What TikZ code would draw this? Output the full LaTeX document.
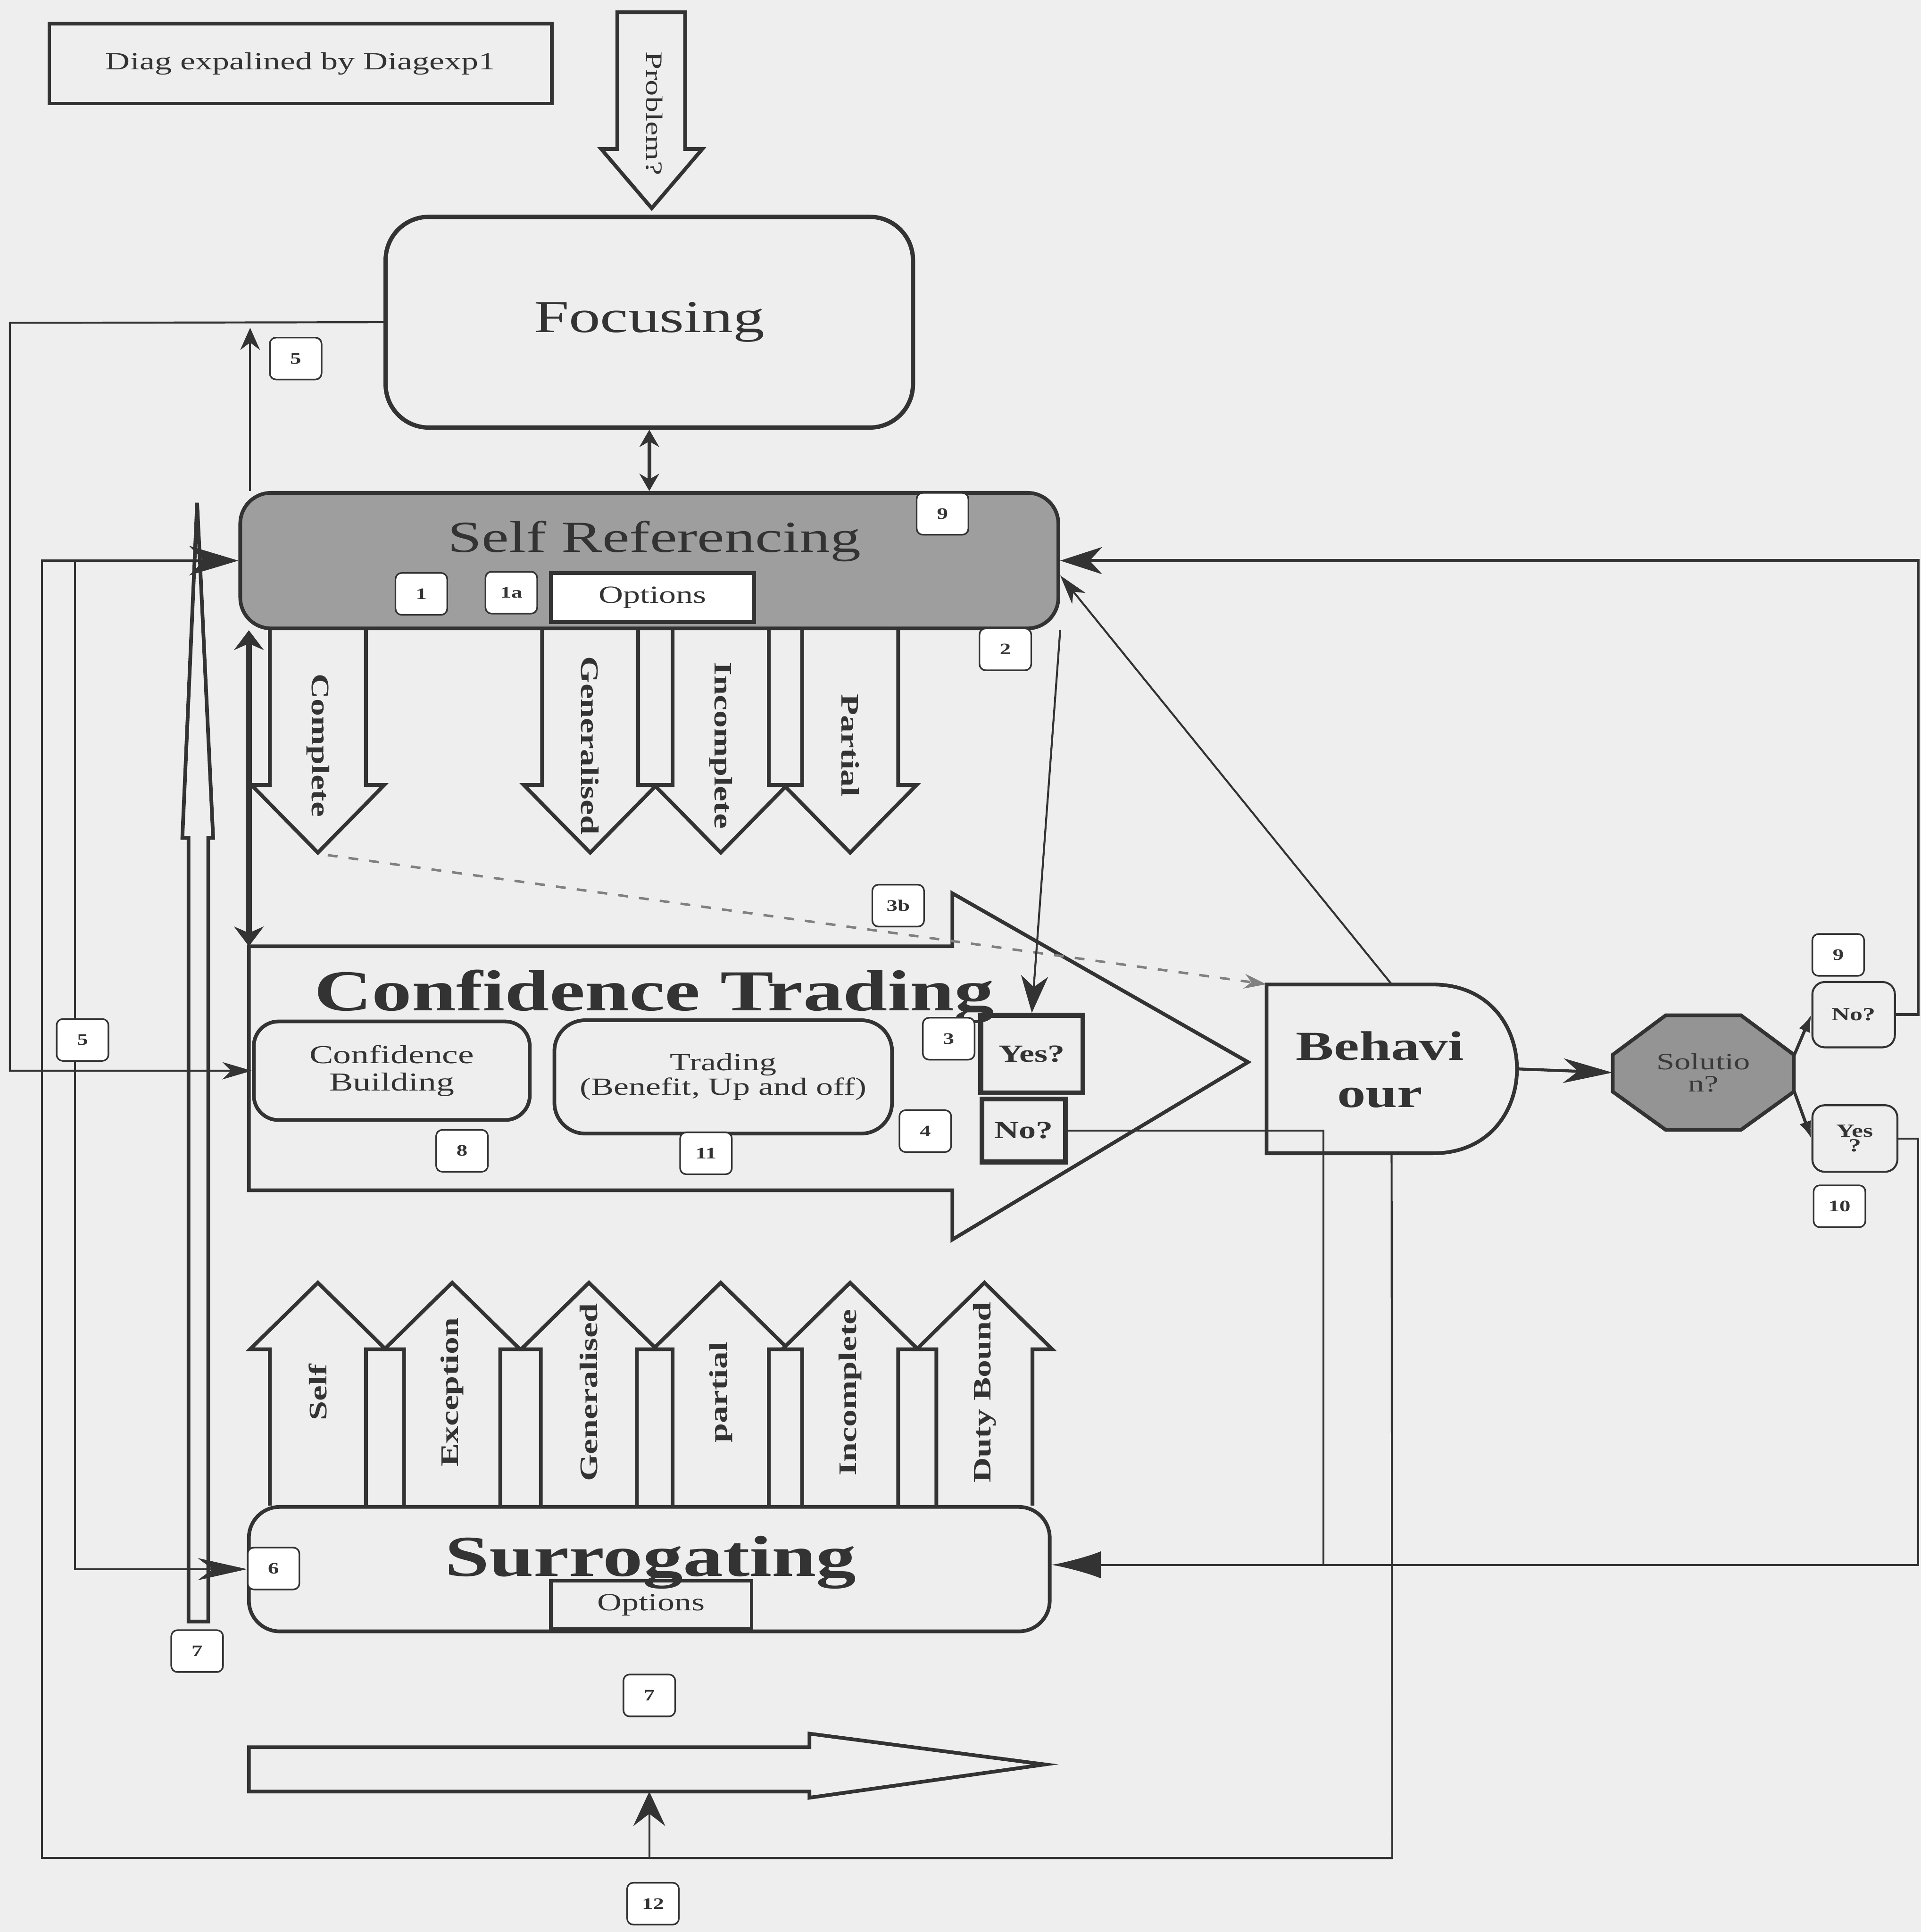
\documentclass[tikz,border=0pt]{standalone}
\usepackage{fontspec}
\setmainfont[FakeStretch=1.38]{Liberation Serif}
\usetikzlibrary{arrows.meta,positioning}
\definecolor{paper}{gray}{0.935}
\definecolor{ink}{gray}{0.2}
\definecolor{srgray}{gray}{0.62}
\newcommand{\fsz}[1]{\fontsize{#1}{1.2\dimexpr#1pt\relax}\selectfont}
% hollow block arrows hanging from Self Referencing / rising from Surrogating
\newcommand{\downblk}[3]{%
  \draw[blk] (#1-39,510) -- (#1-39,637) -- (#1-54,637) -- (#1,692) -- (#1+54,637) -- (#1+39,637) -- (#1+39,510);
  \node[armlbl,rotate=-90] (#2) at (#1,605) {#3};}
\newcommand{\upblk}[3]{%
  \draw[blk] (#1-39,1222) -- (#1-39,1095) -- (#1-55,1095) -- (#1,1041) -- (#1+55,1095) -- (#1+39,1095) -- (#1+39,1222);
  \node[armlbl,rotate=90] (#2) at (#1,1130) {#3};}

\begin{document}
\begin{tikzpicture}[x=1pt,y=-1pt,
  rbox/.style={draw=ink,line width=3pt,rounded corners=25pt},
  blk/.style={draw=ink,line width=3pt,fill=paper},
  armlbl/.style={font=\bfseries\fsz{20.5},text=ink},
  badge/.style={draw=ink,line width=1.3pt,rounded corners=5pt,fill=white,
    minimum width=42pt,minimum height=34pt,inner sep=0pt,font=\bfseries\fsz{13},text=ink},
  conn/.style={draw=ink,line width=1.6pt},
  >={Stealth[length=24pt,width=14pt,inset=7pt]}]
\fill[paper] (0,0) rectangle (1559,1568);
\useasboundingbox (0,0) rectangle (1559,1568);

% top
\node[draw=ink,line width=3pt,minimum width=408pt,minimum height=65pt,
  font=\fsz{20},text=ink] (title) at (244,51.5) {Diag expalined by Diagexp1};
\draw[blk] (501,10) -- (501,121) -- (488,121) -- (529,169) -- (570,121) -- (556,121) -- (556,10) -- cycle;
\node[font=\fsz{19},text=ink,rotate=-90] (prob) at (531,92) {Problem?};
\node[rbox,rounded corners=35pt,line width=3.5pt,minimum width=428pt,minimum height=171pt,
  font=\fsz{37},text=ink] (focus) at (527,261.5) {Focusing};

% self referencing
\downblk{258}{cmp}{Complete}
\downblk{479}{gen}{Generalised}
\downblk{585}{inc}{Incomplete}
\downblk{690}{par}{Partial}
\node[rbox,fill=srgray,minimum width=664pt,minimum height=110pt] (sr) at (527,455) {};
\node[font=\fsz{36},text=ink,anchor=base] (srtxt) at (531,448) {Self Referencing};
\node[draw=ink,line width=3pt,fill=white,minimum width=165pt,minimum height=40pt,
  font=\fsz{20},text=ink] (srop) at (529.5,485) {Options};

% confidence trading
\draw[draw=ink,line width=3pt] (202,768) -- (773,768) -- (773,725) -- (1013,862) -- (773,1006)
  -- (773,966) -- (202,966) -- cycle;
\node[font=\bfseries\fsz{47},text=ink,anchor=base] (cttxt) at (531,820) {Confidence Trading};
\node[rbox,rounded corners=20pt,minimum width=224pt,minimum height=80pt,align=center,
  font=\fsz{21},text=ink] (cb) at (318,869) {Confidence\\[-3pt]Building};
\node[rbox,minimum width=274pt,minimum height=92pt,align=center,
  font=\fsz{20},text=ink] (trd) at (587,874) {Trading\\[-4pt](Benefit, Up and off)};
\node[draw=ink,line width=4pt,minimum width=83pt,minimum height=63pt,
  font=\bfseries\fsz{20},text=ink] (yes) at (837.5,855.5) {Yes?};
\node[draw=ink,line width=4pt,minimum width=68pt,minimum height=51pt,
  font=\bfseries\fsz{20},text=ink] (no) at (831,917.5) {No?};

% behaviour and solution
\draw[draw=ink,line width=3pt] (1028,799) -- (1163,799) .. controls (1254,799) and (1254,936) .. (1163,936)
  -- (1028,936) -- cycle;
\node[minimum width=203pt,minimum height=137pt,inner sep=0pt] (beh) at (1129.5,867.5) {};
\node[font=\bfseries\fsz{33.5},text=ink,align=center] (behtxt) at (1120,868) {Behavi\\[-2pt]our};
\draw[draw=ink,line width=3pt,fill=srgray!110] (1309,856) -- (1352,824) -- (1413,824) -- (1456,856)
  -- (1456,886) -- (1413,917) -- (1352,917) -- (1309,886) -- cycle;
\node[minimum width=147pt,minimum height=93pt,inner sep=0pt,align=center,
  font=\fsz{19},text=gray!45!black] (sol) at (1382.5,870.5) {Solutio\\[-5pt]n?};
\node[draw=ink,line width=1.6pt,rounded corners=10pt,minimum width=67pt,minimum height=53pt,
  font=\bfseries\fsz{15},text=ink] (no2) at (1504.5,823.5) {No?};
\node[draw=ink,line width=1.6pt,rounded corners=10pt,minimum width=69pt,minimum height=54pt,
  align=center,font=\bfseries\fsz{15},text=ink] (yes2) at (1505.5,924) {Yes\\[-6pt]?};

% surrogating
\upblk{258}{slf}{Self}
\upblk{367}{exc}{Exception}
\upblk{478}{gen2}{Generalised}
\upblk{585}{prt}{partial}
\upblk{690}{inc2}{Incomplete}
\upblk{799}{duty}{Duty Bound}
\node[rbox,fill=paper,minimum width=650pt,minimum height=101pt] (surr) at (527,1273.5) {};
\node[draw=ink,line width=3pt,minimum width=163pt,minimum height=39pt,
  font=\fsz{20},text=ink] (surop) at (528.5,1302.5) {Options};
\node[font=\bfseries\fsz{47},text=ink,anchor=base] (surtxt) at (528,1279) {Surrogating};
\draw[draw=ink,line width=3pt] (202,1418) -- (657,1418) -- (657,1407) -- (848,1432) -- (657,1459)
  -- (657,1454) -- (202,1454) -- cycle;
\draw[draw=ink,line width=3pt] (153,1316) -- (153,680) -- (148,680) -- (160,408) -- (173,680)
  -- (169,680) -- (169,1316) -- cycle;

% connectors
\coordinate (lft) at (8,262);
\coordinate (up5) at (203,266);
\coordinate (bl) at (34,1508);
\coordinate (bm) at (527,1508);
\coordinate (br) at (1130,1508);
\coordinate (ba) at (527,1454);
\coordinate (j5) at (61,455);
\coordinate (ctnw) at (202,768);
\coordinate (cmptip) at (266,694);
\coordinate (nj) at (1074,1270);
\coordinate (rr) at (1557,1270);
\coordinate (rt) at (1557,455);
\draw[conn,->] (focus.west) -- (lft) |- (cb.west);
\draw[conn,-{Stealth[length=18pt,width=16pt,inset=6pt]}] (sr.north -| up5) -- (up5);
\draw[conn] (beh.south) -- (br) -- (bm);
\draw[conn,-{Stealth[length=28pt,width=26pt,inset=10pt]}] (bm) -- (ba);
\draw[conn,-{Stealth[length=40pt,width=24pt,inset=12pt]}] (bm) -- (bl) |- (sr.west);
\draw[conn,-{Stealth[length=40pt,width=18pt,inset=12pt]}] (j5) |- (surr.west);
\draw[draw=ink,line width=5pt,{Stealth[length=16pt,width=24pt]}-{Stealth[length=16pt,width=24pt]}]
  (sr.south -| ctnw) -- (ctnw);
\draw[draw=ink,line width=3pt,{Stealth[length=14pt,width=16pt]}-{Stealth[length=14pt,width=16pt]}]
  (focus.south) -- (sr.north);
\draw[draw=gray,line width=2pt,dash pattern=on 8pt off 9pt,-{Stealth[length=18pt,width=12pt]}]
  (cmptip) -- (beh.north west);
\draw[conn,->] (beh.north) -- ([yshift=-12pt]sr.east);
\draw[conn,-{Stealth[length=30pt,width=22pt,inset=9pt]}] (sr.south east) -- (yes.north);
\draw[conn] (no.east) -| (nj);
\draw[conn,-{Latex[length=40pt,width=22pt]}] (yes2.east) -| (rr) -- (rr -| surr.east);
\draw[conn,line width=2.4pt,-{Stealth[length=34pt,width=22pt,inset=10pt]}] (no2.east) -| (rt) -- (sr.east);
\draw[conn,line width=2.4pt,-{Stealth[length=40pt,width=20pt,inset=12pt]}] (beh.east) -- (sol.west);
\draw[conn,line width=2.5pt,-{Latex[length=14pt,width=10pt]}] ([yshift=14pt]sol.east) -- (no2.west);
\draw[conn,line width=2.5pt,-{Latex[length=14pt,width=10pt]}] ([yshift=-15pt]sol.east) -- (yes2.west);

% numbered tags
\node[badge] (b5a) at (240,291) {5};
\node[badge] (b5b) at (67,844) {5};
\node[badge] (b1) at (342,482) {1};
\node[badge] (b1a) at (415,481) {1a};
\node[badge] (b9a) at (765,417) {9};
\node[badge] (b2) at (816,527) {2};
\node[badge] (b3b) at (729,735) {3b};
\node[badge] (b3) at (770,843) {3};
\node[badge] (b4) at (751,918) {4};
\node[badge] (b8) at (375,934) {8};
\node[badge] (b11) at (573,936) {11};
\node[badge] (b9b) at (1492,775) {9};
\node[badge] (b10) at (1493,979) {10};
\node[badge] (b6) at (222,1273) {6};
\node[badge] (b7a) at (160,1340) {7};
\node[badge] (b7b) at (527,1376) {7};
\node[badge] (b12) at (530,1545) {12};
\end{tikzpicture}
\end{document}
